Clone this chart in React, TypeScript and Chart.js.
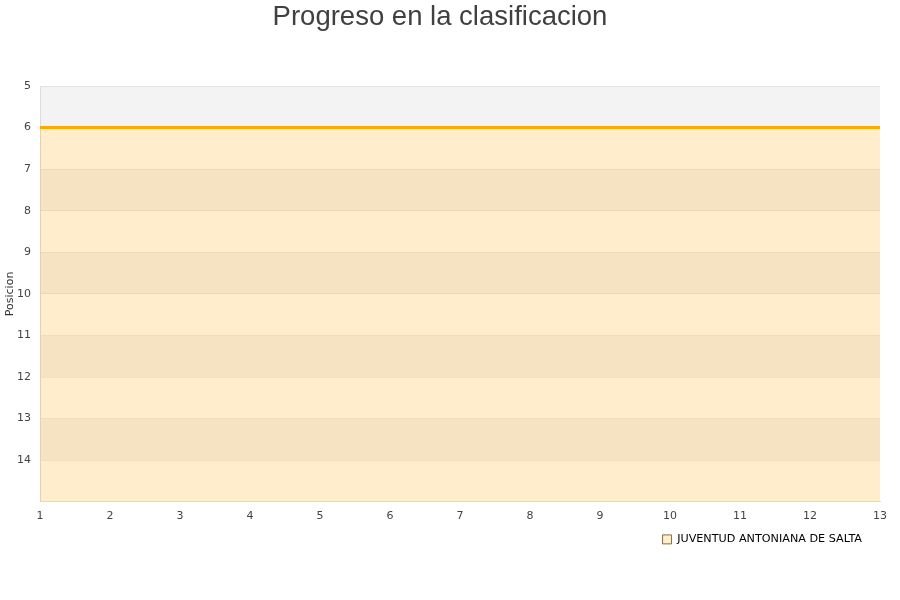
import React, { useEffect, useRef } from "react";
import { Chart, registerables } from "chart.js";

Chart.register(...registerables);

const TITLE = "Progreso en la clasificacion";
const TEAM = "JUVENTUD ANTONIANA DE SALTA";
const ROUNDS = [1, 2, 3, 4, 5, 6, 7, 8, 9, 10, 11, 12, 13];
const POSITIONS = [6, 6, 6, 6, 6, 6, 6, 6, 6, 6, 6, 6, 6];
const Y_MIN = 5;
const Y_MAX = 15;
const Y_TITLE = "Posicion";

const bandsPlugin = {
  id: "bands",
  afterLayout(chart: any) {
    if (chart.legend) chart.legend.right -= 8;
  },
  beforeDraw(chart: any) {
    const { ctx, chartArea } = chart;
    const y = chart.scales.y;
    ctx.save();
    ctx.fillStyle = "#ffffff";
    ctx.fillRect(chartArea.left, chartArea.top, chartArea.right - chartArea.left, chartArea.bottom - chartArea.top);
    for (let v = Y_MIN; v < Y_MAX; v++) {
      if ((v - Y_MIN) % 2 === 0) {
        const a = y.getPixelForValue(v);
        const b = y.getPixelForValue(v + 1);
        ctx.fillStyle = "#f3f3f3";
        ctx.fillRect(chartArea.left, Math.min(a, b), chartArea.right - chartArea.left, Math.abs(b - a));
      }
    }
    ctx.restore();
  },
};

export default function App() {
  const ref = useRef<HTMLCanvasElement>(null);
  useEffect(() => {
    document.body.style.margin = "0";
    const chart = new Chart(ref.current!, {
      type: "line",
      data: {
        datasets: [
          {
            label: TEAM,
            data: ROUNDS.map((r, i) => ({ x: r, y: POSITIONS[i] })),
            borderColor: "#ffaa00",
            backgroundColor: "rgba(255,165,0,0.2)",
            borderWidth: 3,
            pointRadius: 0,
            fill: { value: Y_MAX },
            tension: 0,
          },
        ],
      },
      options: {
        animation: false,
        responsive: false,
        layout: { padding: { left: 0, right: 20, top: 0, bottom: 45 } },
        plugins: {
          title: {
            display: true,
            text: TITLE,
            color: "#404040",
            font: { family: "'Liberation Sans', Arial, sans-serif", size: 27.5, weight: "normal" },
            padding: { top: 1, bottom: 52 },
          },
          legend: {
            position: "bottom",
            align: "end",
            labels: {
              color: "#000",
              font: { family: "'DejaVu Sans', sans-serif", size: 11.2 },
              boxWidth: 9,
              boxHeight: 9,
              padding: 10,
              generateLabels: (c: any) =>
                c.data.datasets.map((d: any, i: number) => ({
                  text: d.label,
                  fillStyle: "rgba(255,165,0,0.2)",
                  strokeStyle: "rgba(110,85,40,0.85)",
                  lineWidth: 1,
                  datasetIndex: i,
                  hidden: false,
                })),
            },
          },
          tooltip: { enabled: false },
        },
        scales: {
          x: {
            type: "linear",
            min: 1,
            max: 13,
            ticks: {
              stepSize: 1,
              color: "#444",
              font: { family: "'DejaVu Sans', sans-serif", size: 11 },
              padding: 8,
            },
            grid: { display: false, drawTicks: false },
            border: { color: "#dddddd" },
            afterFit: (s: any) => {
              s.height = 22;
            },
          },
          y: {
            type: "linear",
            reverse: true,
            min: Y_MIN,
            max: Y_MAX,
            ticks: {
              stepSize: 1,
              color: "#444",
              font: { family: "'DejaVu Sans', sans-serif", size: 11 },
              padding: 9,
              callback: (v: any) => (v === Y_MAX ? "" : String(v)),
            },
            title: {
              display: true,
              text: Y_TITLE,
              color: "#333",
              font: { family: "'DejaVu Sans', sans-serif", size: 11 },
              padding: { top: 4, bottom: 0 },
            },
            grid: { color: "rgba(0,0,0,0.06)", drawTicks: false },
            border: { color: "#dddddd" },
            afterFit: (s: any) => {
              s.width = 40;
            },
          },
        },
      },
      plugins: [bandsPlugin],
    } as any);
    return () => chart.destroy();
  }, []);
  return (
    <div style={{ position: "absolute", left: 0, top: 0, width: 900, height: 600 }}>
      <canvas ref={ref} width={900} height={600} />
    </div>
  );
}
